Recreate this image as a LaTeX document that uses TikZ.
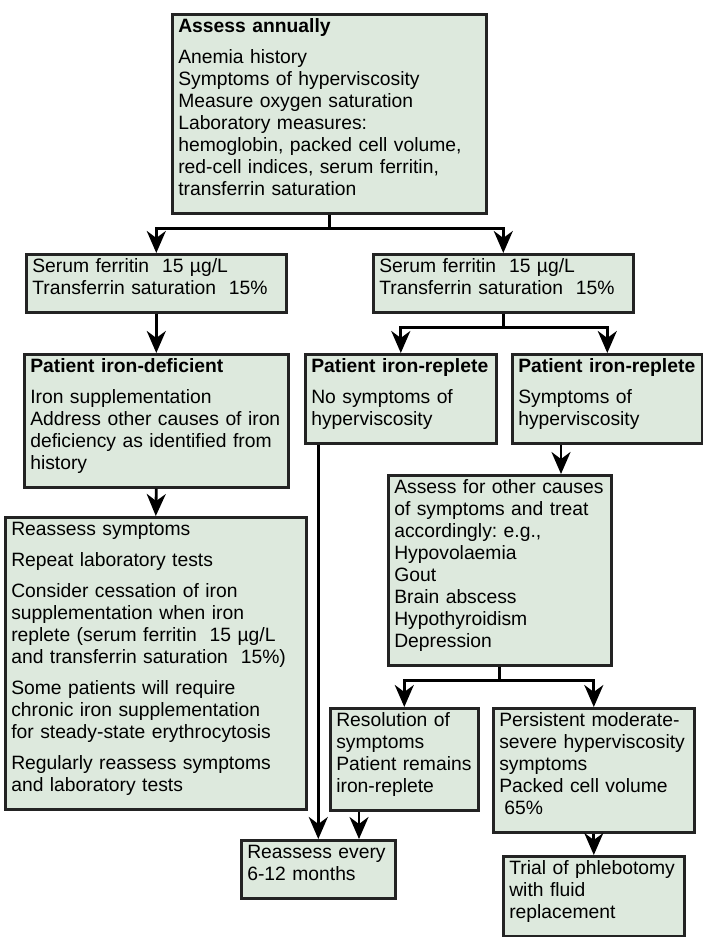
\documentclass[tikz,border=0pt]{standalone}
\usepackage{fontspec}
\setmainfont{Liberation Sans}
\usepackage{xcolor}
\usepackage{tikz}
\usetikzlibrary{arrows.meta}
\frenchspacing
\definecolor{boxfill}{RGB}{221,233,221}
\definecolor{boxline}{RGB}{35,35,35}
\tikzstyle{box} = [
    rectangle,
    anchor=north west,
    align=left,
    inner xsep=6pt, inner ysep=4pt,
    font=\fontsize{19.3pt}{22pt}\selectfont,
    execute at begin node={\rule{0pt}{14pt}},
    execute at end node={\rule[-14pt]{0pt}{14pt}},
    line width=2.6pt,
    draw=boxline, fill=boxfill]
\tikzstyle{arrow} = [line width=2.8pt, -{Stealth[length=22pt, width=19pt, inset=7pt]}]

\begin{document}
\begin{tikzpicture}[x=1pt, y=1pt]
        \useasboundingbox (0,0) rectangle (703,-937);

        \node (assess_annually) [box, text width=302pt] at (171,-13) {\textbf{Assess annually}\\[9pt]
            Anemia history\\ Symptoms of hyperviscosity\\ Measure oxygen saturation\\ Laboratory measures:\\
            hemoglobin, packed cell volume,\\ red-cell indices, serum ferritin,\\ transferrin saturation};

        \node (ferritin_low) [box, text width=248pt] at (25,-253) {Serum ferritin\ \ 15 µg/L\\ Transferrin saturation\ \ 15\%};
        \node (ferritin_high) [box, text width=248pt] at (372,-253) {Serum ferritin\ \ 15 µg/L\\ Transferrin saturation\ \ 15\%};

        \node (iron_deficient) [box, text width=252pt] at (23,-353) {\textbf{Patient iron-deficient}\\[9pt]
            Iron supplementation\\ Address other causes of iron\\ deficiency as identified from\\ history};
        \node (replete_no_symptoms) [box, text width=179pt] at (304,-353) {\textbf{Patient iron-replete}\\[9pt]
            No symptoms of\\ hyperviscosity};
        \node (replete_symptoms) [box, text width=178pt] at (511,-353) {\textbf{Patient iron-replete}\\[9pt]
            Symptoms of\\ hyperviscosity};

        \node (other_causes) [box, text width=211pt] at (387,-474) {Assess for other causes\\ of symptoms and treat\\
            accordingly: e.g.,\\ Hypovolaemia\\ Gout\\ Brain abscess\\ Hypothyroidism\\ Depression};

        \node (reassess_symptoms) [box, text width=289pt] at (4,-516) {Reassess symptoms\\[9pt]
            Repeat laboratory tests\\[9pt]
            Consider cessation of iron\\ supplementation when iron\\ replete (serum ferritin\ \ 15 µg/L\\ and transferrin saturation\ \ 15\%)\\[9pt]
            Some patients will require\\ chronic iron supplementation\\ for steady-state erythrocytosis\\[9pt]
            Regularly reassess symptoms\\ and laboratory tests};

        \node (resolution) [box, text width=136pt] at (329,-707) {Resolution of\\ symptoms\\ Patient remains\\ iron-replete};
        \node (persistent) [box, text width=189pt] at (492,-707) {Persistent moderate-\\ severe hyperviscosity\\
            symptoms\\ Packed cell volume\\ \hspace*{5pt}65\%};

        \node (reassess_every) [box, text width=142pt] at (240,-839) {Reassess every\\ 6-12 months};
        \node (trial) [box, text width=169pt] at (502,-855) {Trial of phlebotomy\\ with fluid\\ replacement};

        \coordinate (branch_symptoms) at ([xshift=50pt]replete_symptoms.south west);
        \coordinate (branch_resolution) at ([xshift=30pt]resolution.south west);

        \draw [arrow] (assess_annually.south) -- ++(0,-14) -| (ferritin_low.north);
        \draw [arrow] (assess_annually.south) -- ++(0,-14) -| (ferritin_high.north);

        \draw [arrow] (ferritin_low.south) -- (iron_deficient.north);
        \draw [arrow] (ferritin_high.south) -- ++(0,-14) -| (replete_no_symptoms.north);
        \draw [arrow] (ferritin_high.south) -- ++(0,-14) -| (replete_symptoms.north);

        \draw [arrow] (iron_deficient.south) -- (reassess_symptoms.north);
        \draw [arrow] (branch_symptoms) -- (branch_symptoms |- other_causes.north);

        \draw [arrow] (other_causes.south) -- ++(0,-14) -| (resolution.north);
        \draw [arrow] (other_causes.south) -- ++(0,-14) -| (persistent.north);

        \draw [arrow] (reassess_every.north |- replete_no_symptoms.south) -- (reassess_every.north);
        \draw [arrow] (branch_resolution) -- (branch_resolution |- reassess_every.north);
        \draw [arrow] (persistent.south) -- (trial.north);
    \end{tikzpicture}
\end{document}
